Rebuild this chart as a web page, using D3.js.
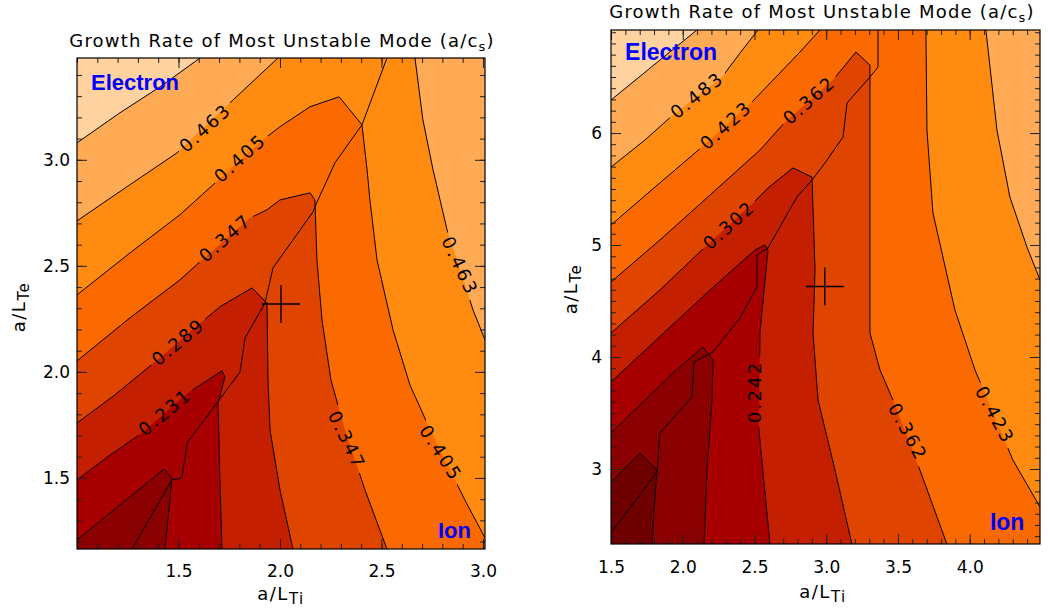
<!DOCTYPE html>
<html>
<head>
<meta charset="utf-8">
<script src="https://cdn.jsdelivr.net/npm/d3@7"></script>
<style>
  body { margin: 0; background: #fff; }
  svg text { font-family: "DejaVu Sans", sans-serif; }
</style>
</head>
<body>
<svg id="chart" width="1048" height="608"></svg>
<script>
// ---------------- Left scan: a/LTi from 1.0 to 3.0 ----------------
const leftLevels = [0.173, 0.231, 0.289, 0.347, 0.405, 0.463, 0.521];
const leftColors = ["#8b0000", "#a80000", "#c41f00", "#df4400", "#fa6a00", "#ff8c10", "#ffab55", "#ffd2a0"];

// contour lines, [a/LTi, a/LTe]
const leftC173 = [[1.0,1.208],[1.212,1.373],[1.429,1.542],[1.468,1.500],[1.448,1.302],[1.433,1.165]];
const leftC231 = [[1.0,1.491],[1.163,1.608],[1.320,1.712],[1.547,1.901],[1.714,2.005],[1.729,1.976],[1.695,1.854],[1.704,1.491],[1.714,1.165]];
const leftC289 = [[1.0,1.759],[1.187,1.892],[1.384,2.047],[1.616,2.236],[1.704,2.307],[1.862,2.396],[1.936,2.325],[1.941,1.962],[1.951,1.726],[2.0,1.443],[2.064,1.165]];
const leftC347 = [[1.0,2.052],[1.261,2.255],[1.507,2.434],[1.606,2.519],[1.852,2.726],[1.936,2.764],[2.0,2.811],[2.148,2.844],[2.172,2.811],[2.182,2.528],[2.207,2.245],[2.251,1.962],[2.320,1.726],[2.419,1.443],[2.527,1.165]];
const leftC405 = [[1.0,2.363],[1.261,2.561],[1.507,2.741],[1.670,2.882],[1.916,3.094],[2.0,3.156],[2.148,3.250],[2.291,3.297],[2.404,3.165],[2.429,2.953],[2.443,2.811],[2.478,2.528],[2.557,2.198],[2.640,1.939],[2.729,1.750],[2.813,1.585],[2.911,1.396],[3.01,1.217]];
const leftC463e = [[1.0,2.712],[1.246,2.873],[1.493,3.033],[1.754,3.269],[1.990,3.48]];
const leftC463i = [[2.665,3.48],[2.704,3.189],[2.754,2.953],[2.823,2.670],[2.887,2.481],[2.951,2.292],[3.01,2.151]];
const leftC521 = [[1.0,3.080],[1.212,3.222],[1.409,3.344],[1.606,3.48]];
const leftPieces = [[leftC173], [leftC231], [leftC289], [leftC347], [leftC405], [leftC463e, leftC463i], [leftC521]];

// boundary between ion- and electron-dominated modes
const leftModeEdge = [[1.271,1.165],[1.468,1.491],[1.517,1.500],[1.542,1.665],[1.690,1.854],[1.803,2.0],[1.828,2.160],[1.926,2.325],[1.966,2.491],[2.163,2.755],[2.182,2.80],[2.271,2.986],[2.404,3.165],[2.527,3.48]];
const leftRef = [2.005, 2.32];

const leftXMajor = [1.5, 2.0, 2.5, 3.0];
const leftYMajor = [1.5, 2.0, 2.5, 3.0];

// ---------------- Right scan: a/LTi from 1.5 to 4.5 ----------------
const rightLevels = [0.121, 0.181, 0.242, 0.302, 0.362, 0.423, 0.483, 0.543];
const rightColors = ["#700000", "#8b0000", "#a80000", "#c41f00", "#df4400", "#fa6a00", "#ff8c10", "#ffab55", "#ffd2a0"];

const rightC121 = [[1.5,2.884],[1.702,3.143],[1.821,2.991],[1.800,2.634],[1.786,2.33]];
const rightC181 = [[1.5,3.321],[1.939,3.866],[2.141,4.089],[2.211,3.973],[2.204,3.616],[2.169,2.991],[2.148,2.33]];
const rightC242 = [[1.5,3.777],[1.890,4.241],[2.190,4.598],[2.503,4.955],[2.573,5.0],[2.594,4.955],[2.538,4.214],[2.531,3.348],[2.608,2.33]];
const rightC302 = [[1.5,4.214],[1.841,4.598],[2.155,4.982],[2.490,5.375],[2.594,5.509],[2.768,5.688],[2.901,5.607],[2.922,4.777],[2.908,4.214],[2.943,3.616],[3.061,2.991],[3.179,2.33]];
const rightC362 = [[1.5,4.670],[1.841,5.045],[2.190,5.446],[2.538,5.848],[2.713,6.098],[3.047,6.473],[3.207,6.723],[3.305,6.607],[3.305,5.402],[3.305,4.214],[3.375,3.884],[3.465,3.616],[3.653,2.991],[3.841,2.33]];
const rightC423e = [[1.5,5.179],[1.807,5.518],[2.134,5.875],[2.469,6.259],[2.643,6.491],[2.817,6.723],[2.956,6.92]];
const rightC423i = [[3.695,6.92],[3.702,6.027],[3.744,5.286],[3.897,4.420],[4.037,3.884],[4.301,3.080],[4.49,2.661]];
const rightC483e = [[1.5,5.696],[1.737,5.938],[1.932,6.161],[2.274,6.5],[2.399,6.714],[2.524,6.92]];
const rightC483i = [[4.113,6.92],[4.190,6.027],[4.280,5.429],[4.399,4.982],[4.49,4.688]];
const rightC543 = [[1.5,6.295],[1.807,6.616],[2.099,6.92]];
const rightPieces = [[rightC121], [rightC181], [rightC242], [rightC302], [rightC362], [rightC423e, rightC423i], [rightC483e, rightC483i], [rightC543]];

const rightModeEdge = [[1.5,2.429],[1.821,2.973],[1.841,3.321],[2.064,3.643],[2.078,3.955],[2.211,4.045],[2.399,4.348],[2.517,4.625],[2.517,4.911],[2.594,4.973],[2.796,5.429],[2.901,5.580],[2.991,5.732],[3.117,5.964],[3.145,6.268],[3.305,6.5],[3.361,6.589],[3.361,6.92]];
const rightRef = [2.99, 4.63];

const rightXMajor = [1.5, 2.0, 2.5, 3.0, 3.5, 4.0];
const rightYMajor = [3, 4, 5, 6];

// ---------------- layout ----------------
const panels = [
  {
    id: "L", xDomain: [1.0, 3.01], yDomain: [1.165, 3.48],
    box: { x0: 77, x1: 485, y0: 58, y1: 549 },
    levels: leftLevels, colors: leftColors, pieces: leftPieces, modeEdge: leftModeEdge, ref: leftRef,
    xMajor: leftXMajor, xMinor: d3.range(10, 31).map(d => d / 10),
    yMajor: leftYMajor, yMinor: d3.range(12, 35).map(d => d / 10),
    xFmt: d3.format(".1f"), yFmt: d3.format(".1f"), xPad: 16, yPad: 7,
    labels: [
      { level: 5, at: [1.631, 3.151], angle: -42 },
      { level: 4, at: [1.803, 3.009], angle: -42 },
      { level: 3, at: [1.729, 2.632], angle: -41 },
      { level: 2, at: [1.498, 2.142], angle: -40 },
      { level: 1, at: [1.433, 1.811], angle: -40 },
      { level: 3, at: [2.330, 1.679], angle: 64 },
      { level: 4, at: [2.793, 1.618], angle: 57 },
      { level: 5, at: [2.887, 2.500], angle: 65 }
    ],
    title: { x: 282, y: 47 }, xTitle: { x: 281, y: 600 }, yTitle: { x: 25, y: 307 },
    electron: { at: [1.069, 3.33], size: 22 }, ion: { at: [2.778, 1.217], size: 22 }
  },
  {
    id: "R", xDomain: [1.5, 4.49], yDomain: [2.33, 6.92],
    box: { x0: 611, x1: 1040, y0: 30, y1: 544 },
    levels: rightLevels, colors: rightColors, pieces: rightPieces, modeEdge: rightModeEdge, ref: rightRef,
    xMajor: rightXMajor, xMinor: d3.range(15, 45).map(d => d / 10),
    yMajor: rightYMajor, yMinor: d3.range(24, 70).map(d => d / 10),
    xFmt: d3.format(".1f"), yFmt: d3.format("d"), xPad: 17, yPad: 9,
    labels: [
      { level: 6, at: [2.099, 6.339], angle: -39 },
      { level: 5, at: [2.301, 6.071], angle: -42 },
      { level: 4, at: [2.880, 6.295], angle: -41 },
      { level: 3, at: [2.322, 5.179], angle: -42 },
      { level: 2, at: [2.503, 3.688], angle: -90 },
      { level: 4, at: [3.570, 3.330], angle: 62 },
      { level: 5, at: [4.176, 3.482], angle: 62 }
    ],
    title: { x: 822, y: 18 }, xTitle: { x: 823, y: 598 }, yTitle: { x: 577, y: 289 },
    electron: { at: [1.598, 6.652], size: 23 }, ion: { at: [4.141, 2.455], size: 23 }
  }
];

const svg = d3.select("#chart");
const defs = svg.append("defs");
const fmtLevel = d3.format(".3f");

// Close a contour chain into the region on its low side by walking the
// plot frame clockwise (screen coordinates) from the chain's end to its start.
function lowRegion(chain, box) {
  const w = box.x1 - box.x0, h = box.y1 - box.y0, P = 2 * (w + h);
  const perim = ([px, py]) => {
    const d = [Math.abs(py - box.y0), Math.abs(px - box.x1), Math.abs(py - box.y1), Math.abs(px - box.x0)];
    const k = d.indexOf(Math.min(...d));
    if (k === 0) return px - box.x0;
    if (k === 1) return w + (py - box.y0);
    if (k === 2) return w + h + (box.x1 - px);
    return 2 * w + h + (box.y1 - py);
  };
  const tEnd = perim(chain[chain.length - 1]);
  const tStart = perim(chain[0]);
  const span = (tStart - tEnd + P) % P;
  const corners = [
    [w, [box.x1, box.y0]], [w + h, [box.x1, box.y1]],
    [2 * w + h, [box.x0, box.y1]], [0, [box.x0, box.y0]]
  ];
  const extra = corners
    .map(([t, p]) => [(t - tEnd + P) % P, p])
    .filter(([d]) => d > 0 && d < span)
    .sort((a, b) => a[0] - b[0])
    .map(d => d[1]);
  return chain.concat(extra);
}

function subText(sel, main, sub, tail, size, subSize, drop) {
  sel.append("tspan").text(main);
  sel.append("tspan").attr("dy", drop).attr("font-size", subSize).text(sub);
  if (tail) sel.append("tspan").attr("dy", -drop).text(tail);
}

panels.forEach(p => {
  const { box } = p;
  const x = d3.scaleLinear().domain(p.xDomain).range([box.x0, box.x1]);
  const y = d3.scaleLinear().domain(p.yDomain).range([box.y1, box.y0]);
  const g = svg.append("g");

  defs.append("clipPath").attr("id", p.id + "clip")
    .append("rect").attr("x", box.x0).attr("y", box.y0)
    .attr("width", box.x1 - box.x0).attr("height", box.y1 - box.y0);

  // filled bands, painted from the highest level downward
  const fills = g.append("g").attr("clip-path", `url(#${p.id}clip)`);
  fills.append("rect").attr("x", box.x0).attr("y", box.y0)
    .attr("width", box.x1 - box.x0).attr("height", box.y1 - box.y0)
    .attr("fill", p.colors[p.colors.length - 1]);
  for (let i = p.levels.length - 1; i >= 0; i--) {
    const chain = p.pieces[i].flat(1).map(([a, b]) => [x(a), y(b)]);
    const poly = lowRegion(chain, box);
    fills.append("path").attr("d", d3.line()(poly) + "Z").attr("fill", p.colors[i]);
  }

  // label gaps in the contour lines
  const mask = defs.append("mask").attr("id", p.id + "mask")
    .attr("maskUnits", "userSpaceOnUse")
    .attr("x", 0).attr("y", 0).attr("width", 1048).attr("height", 608);
  mask.append("rect").attr("width", 1048).attr("height", 608).attr("fill", "#fff");

  const line = d3.line().x(d => x(d[0])).y(d => y(d[1]));
  const lines = g.append("g").attr("clip-path", `url(#${p.id}clip)`);
  const contourLines = lines.append("g").attr("mask", `url(#${p.id}mask)`);
  p.pieces.flat(1).forEach(piece => {
    contourLines.append("path").attr("d", line(piece))
      .attr("fill", "none").attr("stroke", "#000").attr("stroke-width", 1);
  });
  lines.append("path").attr("d", line(p.modeEdge))
    .attr("fill", "none").attr("stroke", "#000").attr("stroke-width", 1);

  // contour value labels
  const labG = g.append("g");
  p.labels.forEach(l => {
    const tr = `translate(${x(l.at[0])},${y(l.at[1])}) rotate(${l.angle})`;
    const t = labG.append("text").attr("transform", tr)
      .attr("text-anchor", "middle").attr("dy", "0.36em")
      .attr("font-size", 18).attr("letter-spacing", 2.2).attr("fill", "#000")
      .text(fmtLevel(p.levels[l.level]));
    const w = t.node().getComputedTextLength();
    mask.append("rect").attr("transform", tr)
      .attr("x", -w / 2 - 4).attr("y", -9).attr("width", w + 8).attr("height", 18)
      .attr("fill", "#000");
  });

  // reference point
  const cx = x(p.ref[0]), cy = y(p.ref[1]);
  g.append("path").attr("d", `M${cx - 19},${cy}H${cx + 19}M${cx},${cy - 19}V${cy + 19}`)
    .attr("stroke", "#000").attr("stroke-width", 1.4).attr("fill", "none");

  // mode annotations
  g.append("text").attr("x", x(p.electron.at[0])).attr("y", y(p.electron.at[1]))
    .style("font-family", "'Liberation Sans', Arial, sans-serif")
    .attr("font-weight", "bold").attr("font-size", p.electron.size).attr("fill", "#0000ff")
    .text("Electron");
  g.append("text").attr("x", x(p.ion.at[0])).attr("y", y(p.ion.at[1]))
    .style("font-family", "'Liberation Sans', Arial, sans-serif")
    .attr("font-weight", "bold").attr("font-size", p.ion.size).attr("fill", "#0000ff")
    .text("Ion");

  // axes: ticks on all four sides, pointing inward
  const styleAxis = sel => {
    sel.select(".domain").remove();
    sel.selectAll(".tick line").attr("stroke", "#222");
    sel.selectAll("text").attr("fill", "#000").attr("font-size", 17)
      .style("font-family", "'DejaVu Sans', sans-serif");
  };
  g.append("g").attr("transform", `translate(0,${box.y1})`)
    .call(d3.axisBottom(x).tickValues(p.xMajor).tickSize(-10).tickSizeOuter(0).tickPadding(p.xPad).tickFormat(p.xFmt))
    .call(styleAxis);
  g.append("g").attr("transform", `translate(0,${box.y1})`)
    .call(d3.axisBottom(x).tickValues(p.xMinor).tickSize(-5).tickSizeOuter(0).tickFormat(""))
    .call(styleAxis);
  g.append("g").attr("transform", `translate(0,${box.y0})`)
    .call(d3.axisTop(x).tickValues(p.xMajor).tickSize(-10).tickSizeOuter(0).tickFormat(""))
    .call(styleAxis);
  g.append("g").attr("transform", `translate(0,${box.y0})`)
    .call(d3.axisTop(x).tickValues(p.xMinor).tickSize(-5).tickSizeOuter(0).tickFormat(""))
    .call(styleAxis);
  g.append("g").attr("transform", `translate(${box.x0},0)`)
    .call(d3.axisLeft(y).tickValues(p.yMajor).tickSize(-10).tickSizeOuter(0).tickPadding(p.yPad).tickFormat(p.yFmt))
    .call(styleAxis);
  g.append("g").attr("transform", `translate(${box.x0},0)`)
    .call(d3.axisLeft(y).tickValues(p.yMinor).tickSize(-5).tickSizeOuter(0).tickFormat(""))
    .call(styleAxis);
  g.append("g").attr("transform", `translate(${box.x1},0)`)
    .call(d3.axisRight(y).tickValues(p.yMajor).tickSize(-10).tickSizeOuter(0).tickFormat(""))
    .call(styleAxis);
  g.append("g").attr("transform", `translate(${box.x1},0)`)
    .call(d3.axisRight(y).tickValues(p.yMinor).tickSize(-5).tickSizeOuter(0).tickFormat(""))
    .call(styleAxis);

  g.append("rect").attr("x", box.x0).attr("y", box.y0)
    .attr("width", box.x1 - box.x0).attr("height", box.y1 - box.y0)
    .attr("fill", "none").attr("stroke", "#000").attr("stroke-width", 1.2);

  // titles
  const title = g.append("text").attr("x", p.title.x).attr("y", p.title.y)
    .attr("text-anchor", "middle").attr("font-size", 18).attr("letter-spacing", 1.2).attr("fill", "#000");
  subText(title, "Growth Rate of Most Unstable Mode (a/c", "s", ")", 18, 13, 4);

  const xt = g.append("text").attr("x", p.xTitle.x).attr("y", p.xTitle.y)
    .attr("text-anchor", "middle").attr("font-size", 18).attr("letter-spacing", 1.5).attr("fill", "#000");
  subText(xt, "a/L", "Ti", null, 18, 15, 4);

  const yt = g.append("text")
    .attr("transform", `translate(${p.yTitle.x},${p.yTitle.y}) rotate(-90)`)
    .attr("text-anchor", "middle").attr("font-size", 18).attr("letter-spacing", 1.5).attr("fill", "#000");
  subText(yt, "a/L", "Te", null, 18, 15, 4);
});
</script>
</body>
</html>
